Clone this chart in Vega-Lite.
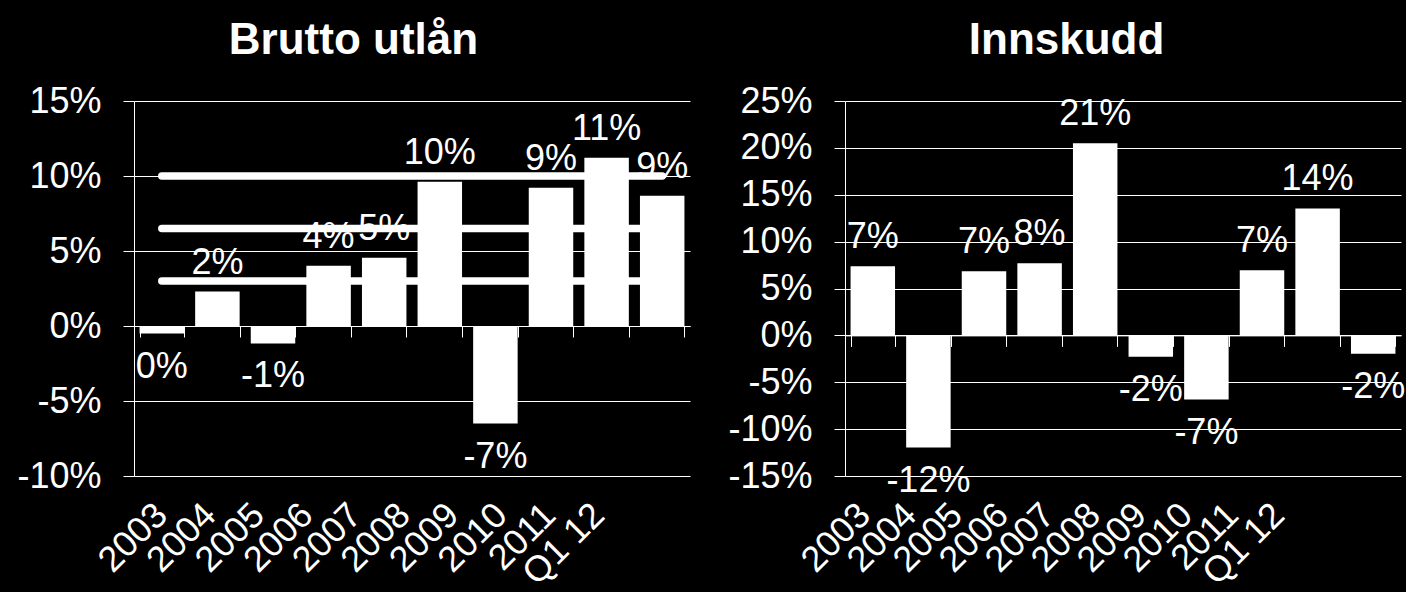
{
  "$schema": "https://vega.github.io/schema/vega-lite/v6.json",
  "background": "black",
  "padding": {"left": 16, "top": 19, "right": 0, "bottom": 0},
  "spacing": 37,
  "config": {"view": {"stroke": null}, "font": "Liberation Sans"},
  "datasets": {
    "loans": [
      {"period": "2003", "value": -0.5, "label": "0%"},
      {"period": "2004", "value": 2.3, "label": "2%"},
      {"period": "2005", "value": -1.16, "label": "-1%"},
      {"period": "2006", "value": 4.02, "label": "4%"},
      {"period": "2007", "value": 4.55, "label": "5%"},
      {"period": "2008", "value": 9.62, "label": "10%"},
      {"period": "2009", "value": -6.5, "label": "-7%"},
      {"period": "2010", "value": 9.22, "label": "9%"},
      {"period": "2011", "value": 11.22, "label": "11%"},
      {"period": "Q1 12", "value": 8.69, "label": "9%"}
    ],
    "deposits": [
      {"period": "2003", "value": 7.37, "label": "7%"},
      {"period": "2004", "value": -11.96, "label": "-12%"},
      {"period": "2005", "value": 6.84, "label": "7%"},
      {"period": "2006", "value": 7.69, "label": "8%"},
      {"period": "2007", "value": 20.5, "label": "21%"},
      {"period": "2008", "value": -2.27, "label": "-2%"},
      {"period": "2009", "value": -6.85, "label": "-7%"},
      {"period": "2010", "value": 6.95, "label": "7%"},
      {"period": "2011", "value": 13.54, "label": "14%"},
      {"period": "Q1 12", "value": -1.96, "label": "-2%"}
    ],
    "targets": [
      {"series": "a", "period": "2003", "value": 10},
      {"series": "a", "period": "Q1 12", "value": 10},
      {"series": "b", "period": "2003", "value": 6.5},
      {"series": "b", "period": "Q1 12", "value": 6.5},
      {"series": "c", "period": "2003", "value": 3},
      {"series": "c", "period": "Q1 12", "value": 3}
    ]
  },
  "hconcat": [
    {
      "width": 556,
      "height": 375,
      "title": {"text": "Brutto utlån", "font": "Liberation Sans", "fontSize": 44, "fontWeight": "bold", "color": "white", "anchor": "middle", "frame": "bounds", "offset": 20},
      "layer": [
        {
          "layer": [
            {
              "data": {"name": "loans"},
              "mark": {"type": "bar", "color": "white"},
              "encoding": {
                "x": {"field": "period", "type": "nominal", "sort": null,
                  "scale": {"type": "band", "domain": ["2003","2004","2005","2006","2007","2008","2009","2010","2011","Q1 12"], "paddingInner": 0.2, "paddingOuter": 0.1},
                  "axis": {"orient": "bottom", "offset": -150, "labels": false, "title": null, "grid": false, "domain": true, "domainColor": "white", "domainWidth": 1, "ticks": true, "tickColor": "white", "tickSize": 11, "tickWidth": 1, "tickBand": "extent"}},
                "y": {"field": "value", "type": "quantitative",
                  "scale": {"domain": [-10, 15], "nice": false, "zero": false},
                  "axis": {"values": [-10, -5, 0, 5, 10, 15], "labelExpr": "datum.value + '%'", "title": null, "grid": true, "gridColor": "white", "gridWidth": 1, "gridOpacity": 1, "domain": true, "domainColor": "white", "domainWidth": 1, "ticks": true, "tickColor": "white", "tickSize": 11, "tickWidth": 1, "labelColor": "white", "labelFontSize": 36, "labelFont": "Liberation Sans", "labelPadding": 22, "labelBaseline": "middle"}}
              }
            },
            {
              "data": {"name": "targets"},
              "mark": {"type": "line", "color": "white", "strokeWidth": 7.5, "strokeCap": "round"},
              "encoding": {
                "x": {"field": "period", "type": "nominal", "sort": null},
                "y": {"field": "value", "type": "quantitative"},
                "detail": {"field": "series"}
              }
            },
            {
              "data": {"name": "loans"},
              "transform": [{"filter": "datum.value >= 0"}],
              "mark": {"type": "text", "color": "white", "font": "Liberation Sans", "fontSize": 36, "baseline": "alphabetic", "dy": -18},
              "encoding": {
                "x": {"field": "period", "type": "nominal", "sort": null},
                "y": {"field": "value", "type": "quantitative"},
                "text": {"field": "label"}
              }
            },
            {
              "data": {"name": "loans"},
              "transform": [{"filter": "datum.value < 0"}],
              "mark": {"type": "text", "color": "white", "font": "Liberation Sans", "fontSize": 36, "baseline": "alphabetic", "dy": 44},
              "encoding": {
                "x": {"field": "period", "type": "nominal", "sort": null},
                "y": {"field": "value", "type": "quantitative"},
                "text": {"field": "label"}
              }
            }
          ]
        },
        {
          "data": {"name": "loans"},
          "mark": {"type": "text", "text": ""},
          "encoding": {
            "x": {"field": "period", "type": "nominal", "sort": null,
              "scale": {"type": "point", "domain": ["2003","2004","2005","2006","2007","2008","2009","2010","2011","Q1 12"], "range": [15, 452], "padding": 0},
              "axis": {"orient": "bottom", "title": null, "grid": false, "domain": false, "ticks": false, "tickSize": 0, "labelAngle": -45, "labelAlign": "right", "labelBaseline": "top", "labelPadding": 21, "labelOverlap": false, "labelBound": false, "labelFlush": false, "labelColor": "white", "labelFontSize": 36, "labelFont": "Liberation Sans"}}
          }
        }
      ],
      "resolve": {"scale": {"x": "independent"}}
    },
    {
      "width": 556,
      "height": 375,
      "title": {"text": "Innskudd", "font": "Liberation Sans", "fontSize": 44, "fontWeight": "bold", "color": "white", "anchor": "middle", "frame": "bounds", "offset": 20},
      "layer": [
        {
          "layer": [
            {
              "data": {"name": "deposits"},
              "mark": {"type": "bar", "color": "white"},
              "encoding": {
                "x": {"field": "period", "type": "nominal", "sort": null,
                  "scale": {"type": "band", "domain": ["2003","2004","2005","2006","2007","2008","2009","2010","2011","Q1 12"], "paddingInner": 0.2, "paddingOuter": 0.1},
                  "axis": {"orient": "bottom", "offset": -140.625, "labels": false, "title": null, "grid": false, "domain": true, "domainColor": "white", "domainWidth": 1, "ticks": true, "tickColor": "white", "tickSize": 11, "tickWidth": 1, "tickBand": "extent"}},
                "y": {"field": "value", "type": "quantitative",
                  "scale": {"domain": [-15, 25], "nice": false, "zero": false},
                  "axis": {"values": [-15, -10, -5, 0, 5, 10, 15, 20, 25], "labelExpr": "datum.value + '%'", "title": null, "grid": true, "gridColor": "white", "gridWidth": 1, "gridOpacity": 1, "domain": true, "domainColor": "white", "domainWidth": 1, "ticks": true, "tickColor": "white", "tickSize": 11, "tickWidth": 1, "labelColor": "white", "labelFontSize": 36, "labelFont": "Liberation Sans", "labelPadding": 22, "labelBaseline": "middle"}}
              }
            },
            {
              "data": {"name": "deposits"},
              "transform": [{"filter": "datum.value >= 0"}],
              "mark": {"type": "text", "color": "white", "font": "Liberation Sans", "fontSize": 36, "baseline": "alphabetic", "dy": -18},
              "encoding": {
                "x": {"field": "period", "type": "nominal", "sort": null},
                "y": {"field": "value", "type": "quantitative"},
                "text": {"field": "label"}
              }
            },
            {
              "data": {"name": "deposits"},
              "transform": [{"filter": "datum.value < 0"}],
              "mark": {"type": "text", "color": "white", "font": "Liberation Sans", "fontSize": 36, "baseline": "alphabetic", "dy": 44},
              "encoding": {
                "x": {"field": "period", "type": "nominal", "sort": null},
                "y": {"field": "value", "type": "quantitative"},
                "text": {"field": "label"}
              }
            }
          ]
        },
        {
          "data": {"name": "deposits"},
          "mark": {"type": "text", "text": ""},
          "encoding": {
            "x": {"field": "period", "type": "nominal", "sort": null,
              "scale": {"type": "point", "domain": ["2003","2004","2005","2006","2007","2008","2009","2010","2011","Q1 12"], "range": [7, 421], "padding": 0},
              "axis": {"orient": "bottom", "title": null, "grid": false, "domain": false, "ticks": false, "tickSize": 0, "labelAngle": -45, "labelAlign": "right", "labelBaseline": "top", "labelPadding": 21, "labelOverlap": false, "labelBound": false, "labelFlush": false, "labelColor": "white", "labelFontSize": 36, "labelFont": "Liberation Sans"}}
          }
        }
      ],
      "resolve": {"scale": {"x": "independent"}}
    }
  ]
}
